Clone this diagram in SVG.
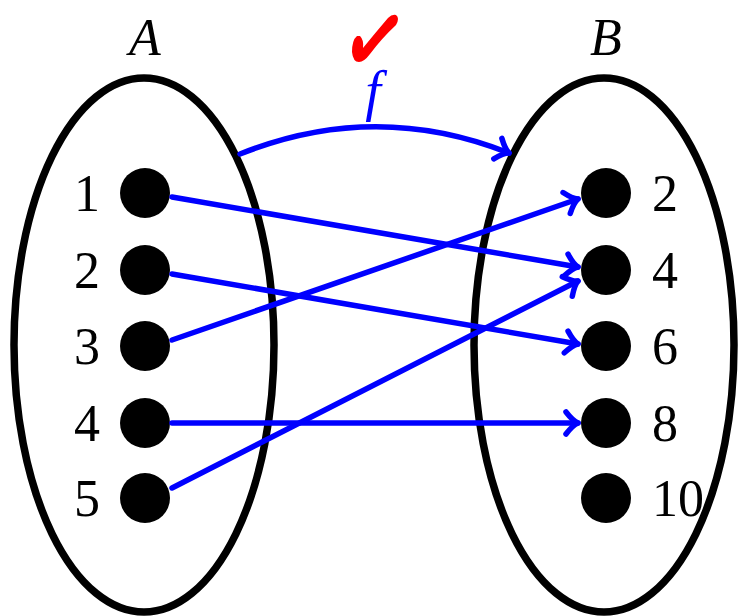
<svg xmlns="http://www.w3.org/2000/svg" width="738" height="616" viewBox="0 0 738 616">
<style>
.set{fill:none;stroke:#000;stroke-width:7.5}
.dot{fill:#000}
.num{font-family:"Liberation Serif",serif;font-size:52px;fill:#000}
.lbl{font-family:"Liberation Serif",serif;font-style:italic;font-size:52px;fill:#000}
.arr{fill:none;stroke:#0000ff;stroke-width:5.5;stroke-linecap:round}
</style>
<defs>
<marker id="ah" markerUnits="userSpaceOnUse" viewBox="-20 -16 24 32" markerWidth="24" markerHeight="32" refX="0" refY="0" orient="auto">
<path d="M -12 -11 Q -5 -2 0 0 Q -5 2 -12 11" fill="none" stroke="#0000ff" stroke-width="5.5" stroke-linecap="round" stroke-linejoin="round"/>
</marker>
</defs>
<g id="setA">
<ellipse class="set" cx="144" cy="345" rx="130" ry="267"/>
<text class="lbl" x="145" y="55" text-anchor="middle">A</text>
</g>
<g id="setB">
<ellipse class="set" cx="604" cy="345" rx="130" ry="267"/>
<text class="lbl" x="606" y="55" text-anchor="middle">B</text>
</g>
<g id="a1"><circle class="dot" cx="145" cy="193" r="25"/><text class="num" x="87" y="211" text-anchor="middle">1</text></g>
<g id="a2"><circle class="dot" cx="145" cy="270" r="25"/><text class="num" x="87" y="288" text-anchor="middle">2</text></g>
<g id="a3"><circle class="dot" cx="145" cy="346" r="25"/><text class="num" x="87" y="364" text-anchor="middle">3</text></g>
<g id="a4"><circle class="dot" cx="145" cy="423" r="25"/><text class="num" x="87" y="441" text-anchor="middle">4</text></g>
<g id="a5"><circle class="dot" cx="145" cy="498" r="25"/><text class="num" x="87" y="516" text-anchor="middle">5</text></g>
<g id="b2"><circle class="dot" cx="606" cy="193" r="25"/><text class="num" x="652" y="211">2</text></g>
<g id="b4"><circle class="dot" cx="606" cy="270" r="25"/><text class="num" x="652" y="288">4</text></g>
<g id="b6"><circle class="dot" cx="606" cy="346" r="25"/><text class="num" x="652" y="364">6</text></g>
<g id="b8"><circle class="dot" cx="606" cy="423" r="25"/><text class="num" x="652" y="441">8</text></g>
<g id="b10"><circle class="dot" cx="606" cy="498" r="25"/><text class="num" x="652" y="516">10</text></g>
<g id="connectors">
<path class="arr" d="M 240 154 Q 375 100 509 153" marker-end="url(#ah)"/>
<text x="373" y="110" text-anchor="middle" font-family="Liberation Serif,serif" font-style="italic" font-size="56" fill="#0000ff">f</text>
<line class="arr" x1="172" y1="197" x2="578" y2="267" marker-end="url(#ah)"/>
<line class="arr" x1="172" y1="274" x2="578" y2="344" marker-end="url(#ah)"/>
<line class="arr" x1="172" y1="340" x2="578" y2="199" marker-end="url(#ah)"/>
<line class="arr" x1="172" y1="423" x2="578" y2="423" marker-end="url(#ah)"/>
<line class="arr" x1="172" y1="488" x2="578" y2="281" marker-end="url(#ah)"/>
</g>
<g id="check">
<path d="M 357 36 Q 352 40 352 52 Q 353 62 359 62 Q 364 62 370 54 Q 382 38 396 25 Q 400 18 396 15 Q 392 14 388 18 Q 376 32 363 48 Q 364 40 360 36 Z" fill="#ff0000"/>
</g>
</svg>
